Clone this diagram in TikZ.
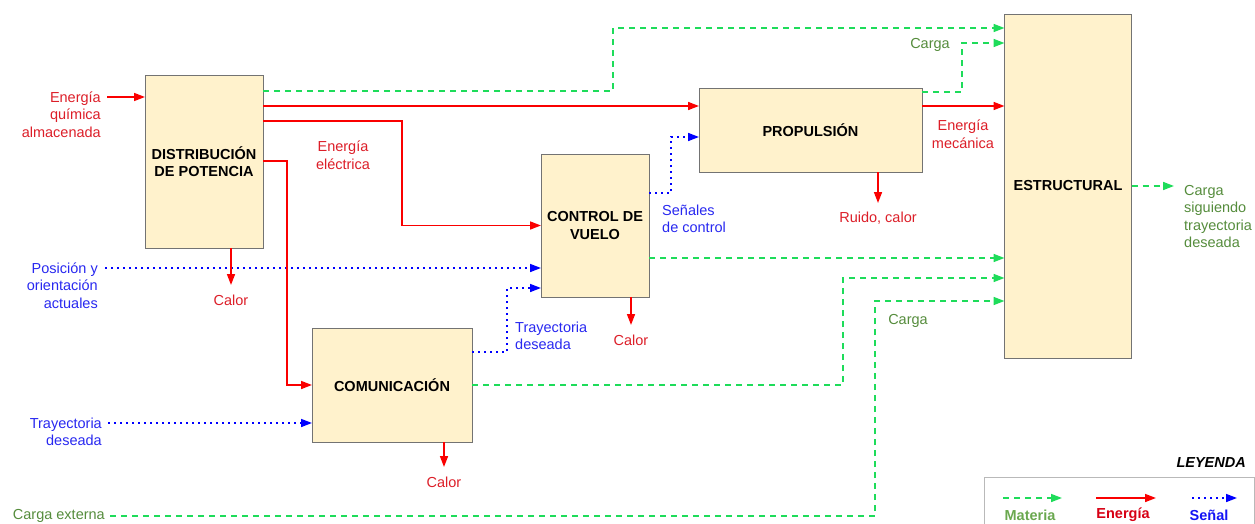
\documentclass[tikz,border=0pt]{standalone}
\usepackage{fontspec}
\setmainfont{Liberation Sans}
\usetikzlibrary{arrows.meta}
\definecolor{boxfill}{RGB}{255,242,204}
\definecolor{boxdraw}{RGB}{115,115,115}
\definecolor{lnG}{RGB}{30,220,90}
\definecolor{lnR}{RGB}{250,0,0}
\definecolor{lnB}{RGB}{0,0,255}
\definecolor{txG}{RGB}{85,140,60}
\definecolor{txR}{RGB}{220,30,40}
\definecolor{txB}{RGB}{40,40,240}
\definecolor{legG}{RGB}{106,168,79}
\definecolor{legR}{RGB}{215,0,20}
\definecolor{legB}{RGB}{20,20,245}
\begin{document}
\begin{tikzpicture}[x=1pt,y=-1pt,
 blk/.style={draw=boxdraw,fill=boxfill,line width=0.9pt,inner sep=0pt,outer sep=0pt,align=center,font=\fontsize{14.5}{17.5}\selectfont\bfseries},
 lbl/.style={inner sep=0pt,font=\fontsize{14.5}{17.5}\selectfont},
 lr/.style={lbl,text=txR},
 lb/.style={lbl,text=txB},
 lg/.style={lbl,text=txG},
 tip/.style={-{Triangle[length=11pt,width=8pt]}},
 mat/.style={tip,draw=lnG,line width=1.6pt,dash pattern=on 6pt off 5pt},
 en/.style={tip,draw=lnR,line width=1.6pt},
 sig/.style={tip,draw=lnB,line width=1.6pt,dash pattern=on 1.6pt off 4.4pt},
 legl/.style={inner sep=0pt,font=\fontsize{14.5}{17.5}\selectfont\bfseries},
]
\useasboundingbox (0,0) rectangle (1255,524);

% blocks
\node[blk,minimum width=118,minimum height=173] (dist) at (204,161.5) {DISTRIBUCIÓN\\DE POTENCIA};
\node[blk,minimum width=223,minimum height=84] (prop) at (810.5,130) {PROPULSIÓN};
\node[blk,minimum width=108,minimum height=143] (ctrl) at (595,225.5) {CONTROL DE\\VUELO};
\node[blk,minimum width=160,minimum height=114] (com) at (392,385) {COMUNICACIÓN};
\node[blk,minimum width=127,minimum height=344] (est) at (1068,186) {ESTRUCTURAL};

% labels
\node[lr,anchor=east,align=right] (lq) at (101,114.5) {Energía\\química\\almacenada};
\node[lr,align=center] (lee) at (343,155) {Energía\\eléctrica};
\node[lb,anchor=east,align=right] (lpos) at (98,285.5) {Posición y\\orientación\\actuales};
\node[lr] (lc1) at (231,300) {Calor};
\node[lb,anchor=east,align=right] (ltd) at (102,432) {Trayectoria\\deseada};
\node[lg,anchor=east] (lce) at (105,515.5) {Carga externa};
\node[lb,anchor=west,align=left] (ltd2) at (515,336) {Trayectoria\\deseada};
\node[lr] (lc2) at (631,340) {Calor};
\node[lr] (lc3) at (444,482) {Calor};
\node[lb,anchor=west,align=left] (lsc) at (662,219) {Señales\\de control};
\node[lg] (lcg1) at (930,45) {Carga};
\node[lr,align=center] (lem) at (963,134) {Energía\\mecánica};
\node[lr] (lrc) at (878,218) {Ruido, calor};
\node[lg] (lcg2) at (908,321) {Carga};
\node[lg,anchor=west,align=left] (lout) at (1184,216.5) {Carga\\siguiendo\\trayectoria\\deseada};

% inputs
\coordinate (q0) at (107,97);
\draw[en] (q0) -- (q0 -| dist.west);
\coordinate (p0) at (105,268);
\draw[sig] (p0) -- (p0 -| ctrl.west);
\coordinate (t0) at (108,423);
\draw[sig] (t0) -- (t0 -| com.west);
\coordinate (ce0) at (110,516);
\coordinate (g4) at (875,301);
\draw[mat] (ce0) -| (g4) -- (g4 -| est.west);

% from distribution
\coordinate (g1) at (613,28);
\draw[mat] ([yshift=-16pt]dist.north east) -| (g1) -- (g1 -| est.west);
\draw[en] ([yshift=-31pt]dist.north east) -- ([yshift=-18pt]prop.north west);
\draw[en] ([yshift=-46pt]dist.north east) -- ++(139,0) |- (ctrl.west);
\draw[en] ([yshift=-86pt]dist.north east) -- ++(24,0) |- (com.west);
\draw[en] (dist.south -| lc1) -- ([yshift=15pt]lc1.center);

% from communication
\draw[sig] ([yshift=-24pt]com.north east) -- ++(35,0) |- ([yshift=-134pt]ctrl.north west);
\coordinate (g3) at (843,278);
\draw[mat] (com.east) -| (g3) -- (g3 -| est.west);
\draw[en] (com.south -| lc3) -- ([yshift=15pt]lc3.center);

% from flight control
\draw[sig] ([yshift=-39pt]ctrl.north east) -- ++(22,0) |- ([yshift=-49pt]prop.north west);
\coordinate (g2) at ([yshift=-104pt]ctrl.north east);
\draw[mat] (g2) -- (g2 -| est.west);
\draw[en] (ctrl.south -| lc2) -- ([yshift=15pt]lc2.center);

% from propulsion
\coordinate (g5) at (962,43);
\draw[mat] ([yshift=-4pt]prop.north east) -| (g5) -- (g5 -| est.west);
\coordinate (r5) at ([yshift=-18pt]prop.north east);
\draw[en] (r5) -- (r5 -| est.west);
\draw[en] (prop.south -| lrc) -- ([yshift=15pt]lrc.center);

% output
\coordinate (o1) at (1174,186);
\draw[mat] (est.east) -- (o1);

% legend
\node[legl,font=\fontsize{14.5}{17.5}\selectfont\bfseries\itshape,anchor=east] (ley) at (1246,463) {LEYENDA};
\draw[draw=gray!55,line width=1pt] (984,525) |- (1254,477) -- (1254,525);
\coordinate (m0) at (1003,498); \coordinate (m1) at (1062,498);
\draw[mat] (m0) -- (m1);
\coordinate (e0) at (1096,498); \coordinate (e1) at (1156,498);
\draw[en] (e0) -- (e1);
\coordinate (s0) at (1192,498); \coordinate (s1) at (1237,498);
\draw[sig] (s0) -- (s1);
\node[legl,text=legG] (lm) at (1030,515) {Materia};
\node[legl,text=legR] (lener) at (1123,515) {Energía};
\node[legl,text=legB] (lsen) at (1209,515) {Señal};
\end{tikzpicture}
\end{document}
